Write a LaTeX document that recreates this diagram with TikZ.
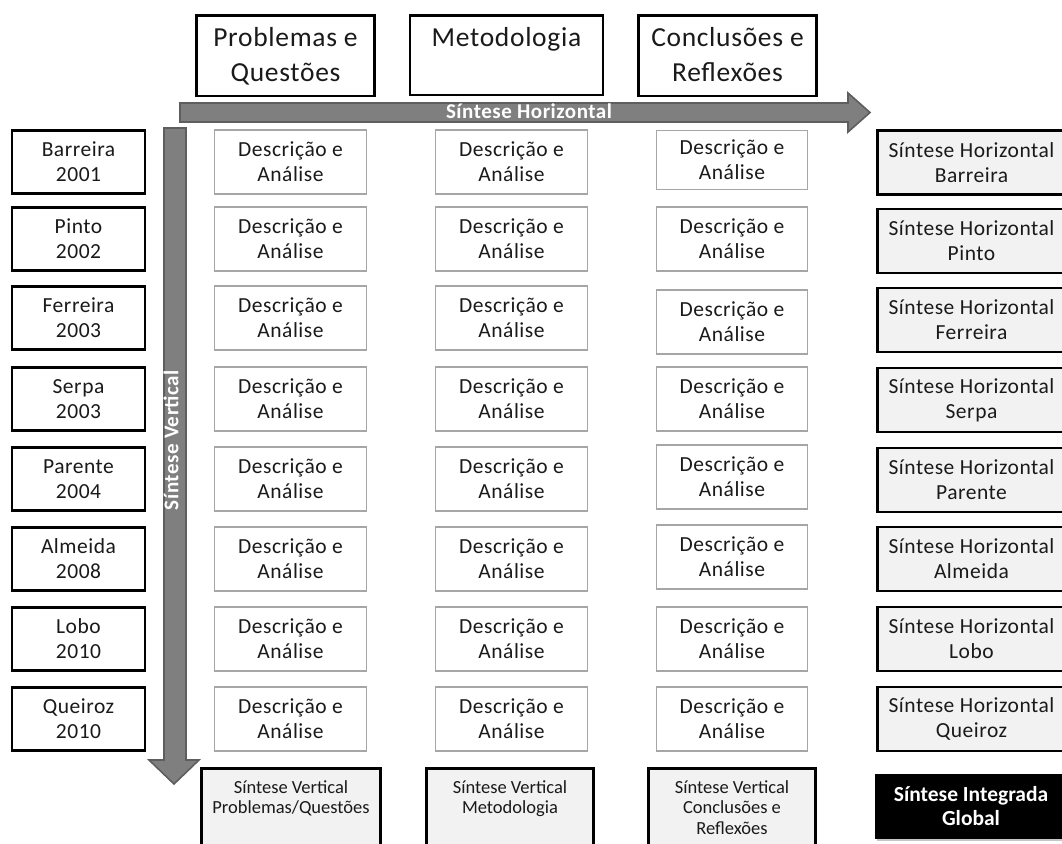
\documentclass[tikz,border=0pt]{standalone}
\usepackage{fontspec}
\setmainfont{Carlito}[LetterSpace=2.5]
\newfontfamily\plainfont{Carlito}
\usetikzlibrary{shadows}
\definecolor{txt}{HTML}{1A1A1A}
\definecolor{boxfill}{HTML}{F2F2F2}
\definecolor{arrowgray}{HTML}{7F7F7F}
\definecolor{arrowedge}{HTML}{5E5E5E}
\definecolor{descgray}{HTML}{A6A6A6}
\begin{document}
\begin{tikzpicture}[x=1pt,y=-1pt,
  hdrbox/.style={draw=black, line width=2.6pt, fill=white, inner sep=0pt, anchor=north,
    text=txt, font=\fontsize{27.5}{35}\selectfont},
  yearbox/.style={draw=black, line width=2.6pt, fill=white, inner sep=0pt,
    minimum width=133pt, minimum height=63.5pt, align=center, text=txt,
    font=\fontsize{21.5}{25}\selectfont},
  descbox/.style={draw=descgray, line width=1.4pt, fill=white, inner sep=0pt,
    minimum width=151.5pt, minimum height=64pt, align=center, text=txt,
    font=\fontsize{21.5}{25}\selectfont},
  hsynbox/.style={draw=black, line width=2.6pt, fill=boxfill, inner sep=0pt,
    minimum width=188pt, minimum height=64pt, align=center, text=txt,
    font=\fontsize{21.5}{25}\selectfont},
  vsynbox/.style={draw=black, line width=2.6pt, fill=boxfill, inner sep=0pt, anchor=north,
    text=txt, font=\plainfont\fontsize{18.5}{20.5}\selectfont},
  globbox/.style={draw=black, line width=1pt, fill=black, inner sep=0pt,
    minimum width=192pt, minimum height=64pt, align=center, text=white,
    font=\plainfont\bfseries\fontsize{21.5}{24}\selectfont,
    drop shadow={shadow xshift=2pt, shadow yshift=-3pt, opacity=0.45}},
  bigarrow/.style={fill=arrowgray, draw=arrowedge, line width=1.6pt, line join=miter},
  arrowlabel/.style={text=white, inner sep=0pt, font=\bfseries\fontsize{21}{24}\selectfont}
]
\useasboundingbox (0,0) rectangle (1062,843);
\clip (0,0) rectangle (1062,843);

% big arrows
\coordinate (hs1) at (180,103);
\coordinate (hs2) at (848,103);
\coordinate (hh1) at (848,93);
\coordinate (htip) at (870,112.5);
\coordinate (hh2) at (848,132);
\coordinate (hs3) at (848,122);
\coordinate (hs4) at (180,122);
\draw[bigarrow] (hs1) -- (hs2) -- (hh1) -- (htip) -- (hh2) -- (hs3) -- (hs4) -- cycle;

\coordinate (vs1) at (164,128);
\coordinate (vs2) at (164,760);
\coordinate (vh1) at (149,760);
\coordinate (vtip) at (174,784);
\coordinate (vh2) at (199,760);
\coordinate (vs3) at (186,760);
\coordinate (vs4) at (186,128);
\draw[bigarrow] (vs1) -- (vs2) -- (vh1) -- (vtip) -- (vh2) -- (vs3) -- (vs4) -- cycle;

\node[arrowlabel, anchor=base] (hlab) at (529,118.5) {Síntese Horizontal};
\node[arrowlabel, rotate=90] (vlab) at (171,440) {Síntese Vertical};

% header boxes
\node[hdrbox] (hP) at (285.5,14.5) {\parbox[t][80pt][t]{178pt}{\centering\rule{0pt}{30.5pt}Problemas e\\Questões}};
\node[hdrbox] (hM) at (506.5,14.5) {\parbox[t][79pt][t]{193pt}{\centering\rule{0pt}{30.5pt}Metodologia}};
\node[hdrbox] (hC) at (727.5,14.5) {\parbox[t][80pt][t]{178pt}{\centering\rule{0pt}{30.5pt}Conclusões e\\Reflexões}};

% rows
\foreach \nm/\yr/\yy [count=\i] in {Barreira/2001/162, Pinto/2002/239, Ferreira/2003/318,
    Serpa/2003/399, Parente/2004/479, Almeida/2008/559, Lobo/2010/639, Queiroz/2010/719}{
  \node[yearbox] (y\i) at (78.5,\yy) {\nm\\\yr};
  \node[descbox] (da\i) at (290.5,\yy) {Descrição e\\Análise};
  \node[descbox] (db\i) at (511.5,\yy) {Descrição e\\Análise};
}
\foreach \yy/\hh [count=\i] in {160/59, 239/64, 322/64, 399/64, 477/64, 557/64, 639/64, 719/64}{
  \node[descbox, minimum height=\hh pt] (dc\i) at (732,\yy) {Descrição e\\Análise};
}
\foreach \nm/\yy [count=\i] in {Barreira/162.5, Pinto/241, Ferreira/320, Serpa/400,
    Parente/480, Almeida/559, Lobo/639, Queiroz/719}{
  \node[hsynbox] (hs\i) at (971.5,\yy) {Síntese Horizontal\\\nm};
}

% bottom boxes
\node[vsynbox] (vP) at (291,767.3) {\parbox[t][84pt][t]{179pt}{\centering\rule{0pt}{24.7pt}Síntese Vertical\\Problemas/Questões}};
\node[vsynbox] (vM) at (510,767.3) {\parbox[t][84pt][t]{167pt}{\centering\rule{0pt}{24.7pt}Síntese Vertical\\Metodologia}};
\node[vsynbox] (vC) at (732,767.3) {\parbox[t][84pt][t]{167pt}{\centering\rule{0pt}{24.7pt}Síntese Vertical\\Conclusões e\\Reflexões}};

\node[globbox] (glob) at (971,806) {Síntese Integrada\\Global};
\end{tikzpicture}
\end{document}
